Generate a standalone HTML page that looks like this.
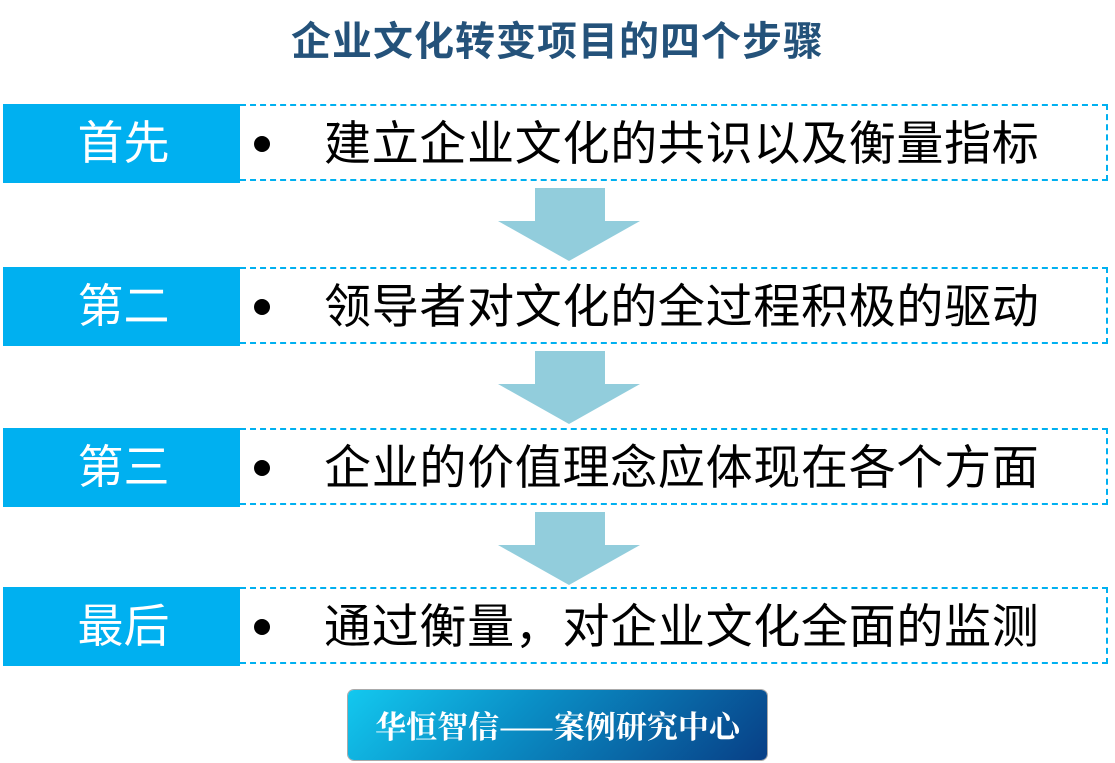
<!DOCTYPE html>
<html><head><meta charset="utf-8"><style>
body{margin:0;width:1115px;height:763px;background:#fff;position:relative;overflow:hidden;font-family:"Liberation Sans","Noto Sans CJK SC",sans-serif}
.t{position:absolute;left:0;width:1115px;top:16px;text-align:center;font-size:40px;line-height:52px;font-weight:bold;color:#24527a;letter-spacing:1px}
.lab{position:absolute;left:3px;width:237px;height:79px;background:#00b0f0;color:#fff;font-size:46px;line-height:79px;text-align:center;box-sizing:border-box;padding-left:4px}
.box{position:absolute;left:240px;width:868px;height:77px;box-sizing:border-box;border:2px dashed #00b0f0;border-left:none}
.dot{position:absolute;left:254px;width:16px;height:16px;border-radius:50%;background:#000}
.txt{position:absolute;left:324px;font-size:47px;color:#000;line-height:79px;white-space:nowrap;letter-spacing:0.7px}
.arr{position:absolute;left:498px;width:142px}
.badge{position:absolute;left:348px;top:690px;width:419px;height:70px;border-radius:6px;background:linear-gradient(135deg,#13c8ef 0%,#0a8fc6 40%,#083f86 100%);box-shadow:0 0 0 1px #aaa;color:#fff;font-family:"Noto Serif CJK SC",serif;font-size:31px;line-height:70px;text-align:center;font-weight:bold}
</style></head><body>
<div class="t">企业文化转变项目的四个步骤</div>

<div class="lab" style="top:104px">首先</div><div class="box" style="top:104px"></div><div class="dot" style="top:136px"></div><div class="txt" style="top:104px">建立企业文化的共识以及衡量指标</div>
<div class="lab" style="top:267px">第二</div><div class="box" style="top:267px"></div><div class="dot" style="top:299px"></div><div class="txt" style="top:267px">领导者对文化的全过程积极的驱动</div>
<div class="lab" style="top:428px">第三</div><div class="box" style="top:428px"></div><div class="dot" style="top:460px"></div><div class="txt" style="top:428px">企业的价值理念应体现在各个方面</div>
<div class="lab" style="top:587px">最后</div><div class="box" style="top:587px"></div><div class="dot" style="top:619px"></div><div class="txt" style="top:587px">通过衡量，对企业文化全面的监测</div>

<svg class="arr" style="top:188px" height="74" viewBox="0 0 142 74"><polygon points="37,0 107,0 107,33 142,33 71,73 0,33 37,33" fill="#92cddc"/></svg>
<svg class="arr" style="top:351px" height="74" viewBox="0 0 142 74"><polygon points="37,0 107,0 107,33 142,33 71,73 0,33 37,33" fill="#92cddc"/></svg>
<svg class="arr" style="top:512px" height="74" viewBox="0 0 142 74"><polygon points="37,0 107,0 107,33 142,33 71,73 0,33 37,33" fill="#92cddc"/></svg>

<div class="badge">华恒智信——案例研究中心</div>
</body></html>
